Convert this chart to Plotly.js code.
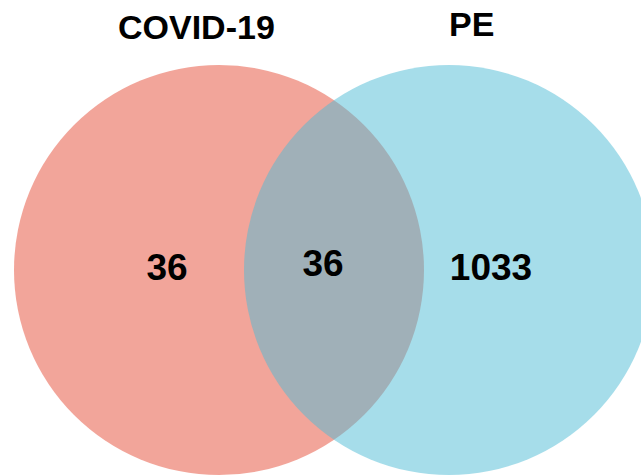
<!DOCTYPE html>
<html>
<head>
<meta charset="utf-8">
<script src="https://cdn.plot.ly/plotly-3.0.1.min.js"></script>
<style>html,body{margin:0;padding:0;background:#fff;}#chart{width:641px;height:476px;}</style>
</head>
<body>
<div id="chart"></div>
<script>
// Set names and region counts
var setNames = ["COVID-19", "PE"];
var onlyCounts = [36, 1033];   // unique to each set
var sharedCount = 36;          // intersection
var setColors = ["#E64B35", "#4DBBD5"];

// Layout geometry (pixel-like coordinates)
var centers = [[219, 270], [449, 270]];
var radius = 205;
var labelPos = {x: [167, 323, 491], y: [271, 267, 271]};
var titlePos = {x: [196, 471], y: [27, 24]};

var shapes = centers.map(function (c, i) {
  return {
    type: "circle", xref: "x", yref: "y",
    x0: c[0] - radius, x1: c[0] + radius,
    y0: c[1] - radius, y1: c[1] + radius,
    fillcolor: setColors[i], opacity: 0.5,
    line: {width: 0}, layer: "below"
  };
});

var counts = [onlyCounts[0], sharedCount, onlyCounts[1]];
var trace = {
  type: "scatter", mode: "text",
  x: labelPos.x, y: labelPos.y,
  text: counts.map(String),
  textposition: "middle center",
  textfont: {family: "Liberation Sans, Arial, sans-serif", size: 37, color: "#000", weight: "bold"},
  hoverinfo: "skip", showlegend: false
};

var annotations = setNames.map(function (n, i) {
  return {
    x: titlePos.x[i], y: titlePos.y[i], xref: "x", yref: "y",
    text: "<b>" + n + "</b>", showarrow: false,
    xanchor: "center", yanchor: "middle",
    font: {family: "Liberation Sans, Arial, sans-serif", size: 34, color: "#000"}
  };
});

var layout = {
  width: 641, height: 476,
  margin: {l: 0, r: 0, t: 0, b: 0},
  paper_bgcolor: "#fff", plot_bgcolor: "#fff",
  xaxis: {range: [0, 641], visible: false, fixedrange: true},
  yaxis: {range: [476, 0], visible: false, fixedrange: true},
  shapes: shapes, annotations: annotations, showlegend: false
};

Plotly.newPlot("chart", [trace], layout, {displayModeBar: false, staticPlot: true});
</script>
</body>
</html>
